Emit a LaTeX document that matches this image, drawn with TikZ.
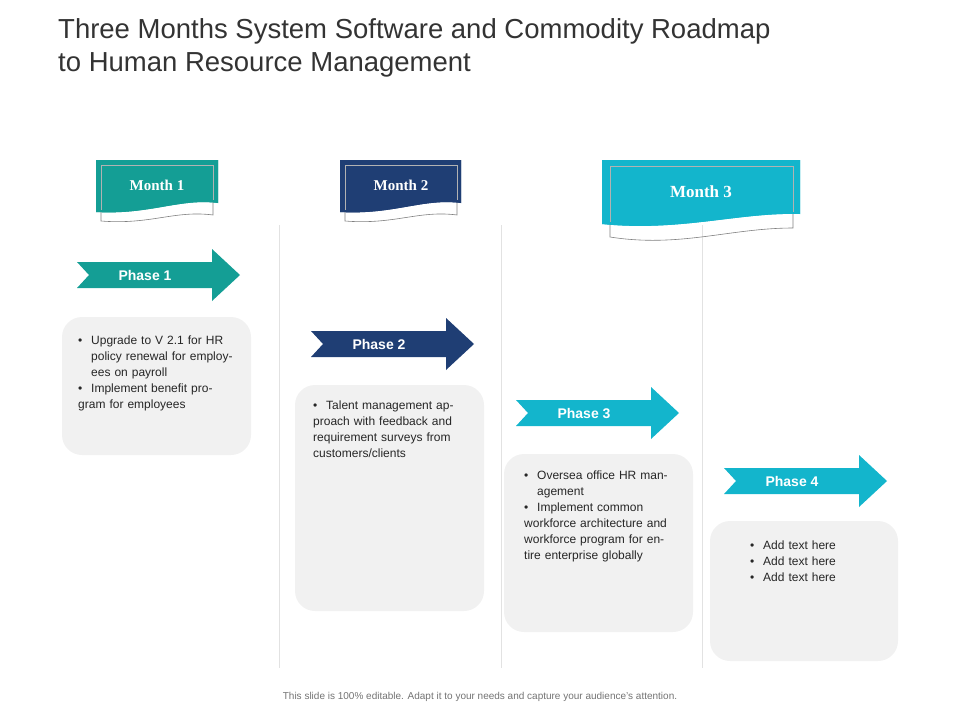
\documentclass[tikz,border=0pt]{standalone}
\usepackage{fontspec}
\setmainfont{Liberation Sans}
\newfontfamily\flagfont{Liberation Serif}
\definecolor{teal1}{HTML}{149E95}
\definecolor{navy1}{HTML}{1F3E74}
\definecolor{cyan1}{HTML}{13B5CC}
\definecolor{boxgray}{HTML}{F1F1F1}
\definecolor{linegray}{HTML}{E2E2E2}
\newcommand{\bl}[1]{\par\hangindent=13pt\hangafter=1\noindent\makebox[13pt][l]{\textbullet}#1}
\tikzset{
 txtbox/.style={fill=boxgray,rounded corners=20pt},
 boxtext/.style={anchor=north west,inner sep=0pt,text width=#1,font=\fontsize{12}{16}\selectfont,color=black!85},
 phase/.style={font=\bfseries\fontsize{14}{16}\selectfont,text=white},
 monthlbl/.style={font=\flagfont\bfseries\fontsize{15}{18}\selectfont,text=white},
 vline/.style={draw=linegray,line width=0.8pt},
}
\newcommand{\flag}[6]{% x0 y0 w h color name
 \fill[#5] (#1,#2) -- ++(#3,0) -- ++(0,#4-0.12*#4) .. controls ++(-0.35*#3,-0.05*#4) and ++(0.35*#3,-0.08*#4) .. ++(-#3,0.12*#4) -- cycle;
 \draw[gray,line width=0.6pt] (#1+0.045*#3,#2+0.1*#4) rectangle (#1+0.955*#3,#2+0.7*#4);
 \draw[gray,line width=0.6pt] (#1+0.045*#3,#2+0.98*#4) -- (#1+0.045*#3,#2+1.2*#4) .. controls ++(0.35*#3,0.1*#4) and ++(-0.35*#3,0.05*#4) .. (#1+0.955*#3,#2+1.05*#4) -- (#1+0.955*#3,#2+0.85*#4);
 \fill[#5] (#1,#2) -- ++(#3,0) -- ++(0,#4-0.12*#4) .. controls ++(-0.35*#3,-0.05*#4) and ++(0.35*#3,-0.08*#4) .. ++(-#3,0.12*#4) -- cycle;
 \draw[gray!70,line width=0.5pt] (#1+0.045*#3,#2+0.1*#4) -- (#1+0.955*#3,#2+0.1*#4) -- (#1+0.955*#3,#2+0.8*#4);
 \draw[gray!70,line width=0.5pt] (#1+0.045*#3,#2+0.1*#4) -- (#1+0.045*#3,#2+0.95*#4);
 \node[monthlbl] (#6) at (#1+0.5*#3,#2+0.5*#4) {#6};}
\newcommand{\parrow}[4]{% x0 y0 color label
 \fill[#3] (#1,#2+13) -- (#1+135,#2+13) -- (#1+135,#2) -- (#1+163,#2+26) -- (#1+135,#2+52) -- (#1+135,#2+39) -- (#1,#2+39) -- (#1+12,#2+26) -- cycle;
 \node[phase] at (#1+68,#2+26) {#4};}
\begin{document}
\begin{tikzpicture}[x=1pt,y=-1pt]
\useasboundingbox (0,0) rectangle (960,720);
\node[anchor=north west,inner sep=0pt,align=left,font=\fontsize{27.5}{33}\selectfont,color=black!80] (title) at (58,18) {Three Months System Software and Commodity Roadmap\\to Human Resource Management};
\draw[vline] (279,225) -- (279,668);
\draw[vline] (501,225) -- (501,668);
\draw[vline] (702,225) -- (702,668);
% flags
\fill[teal1] (96,160) -- (218,160) -- (218,203) .. controls (180,198) and (150,215) .. (96,212) -- cycle;
\draw[gray,line width=0.6pt] (101,165) -- (213,165) -- (213,215) .. controls (175,210) and (150,225) .. (101,221) -- cycle;
\fill[teal1] (96,160) -- (218,160) -- (218,203) .. controls (180,198) and (150,215) .. (96,212) -- cycle;
\draw[gray!60,line width=0.5pt] (101,210) -- (101,165) -- (213,165) -- (213,200);
\node[monthlbl] (m1) at (157,185) {Month 1};
\fill[navy1] (340,160) -- (461,160) -- (461,203) .. controls (423,198) and (394,215) .. (340,212) -- cycle;
\draw[gray,line width=0.6pt] (345,165) -- (457,165) -- (457,215) .. controls (419,210) and (394,225) .. (345,221) -- cycle;
\fill[navy1] (340,160) -- (461,160) -- (461,203) .. controls (423,198) and (394,215) .. (340,212) -- cycle;
\draw[gray!60,line width=0.5pt] (345,210) -- (345,165) -- (457,165) -- (457,200);
\node[monthlbl] (m2) at (401,185) {Month 2};
\fill[cyan1] (602,160) -- (800,160) -- (800,214) .. controls (740,212) and (680,232) .. (602,224) -- cycle;
\draw[gray,line width=0.6pt] (610,166) -- (793,166) -- (793,228) .. controls (730,228) and (680,248) .. (610,237) -- cycle;
\fill[cyan1] (602,160) -- (800,160) -- (800,214) .. controls (740,212) and (680,232) .. (602,224) -- cycle;
\draw[gray!60,line width=0.5pt] (610,222) -- (610,166) -- (793,166) -- (793,212);
\node[monthlbl,font=\flagfont\bfseries\fontsize{17}{20}\selectfont] (m3) at (701,192) {Month 3};
% arrows
\parrow{77}{249}{teal1}{Phase 1}
\parrow{311}{318}{navy1}{Phase 2}
\parrow{516}{387}{cyan1}{Phase 3}
\parrow{724}{455}{cyan1}{Phase 4}
% boxes
\fill[txtbox] (62,317) rectangle (251,455);
\fill[txtbox] (295,385) rectangle (484,611);
\fill[txtbox] (504,454) rectangle (693,632);
\fill[txtbox] (710,521) rectangle (898,661);
\node[boxtext=156pt] (t1) at (78,328) {\bl{Upgrade to V 2.1 for HR policy renewal for employees on payroll}\bl{Implement benefit program for employees}};
\node[boxtext=147pt] (t2) at (313,393) {\bl{Talent management approach with feedback and requirement surveys from customers/clients}};
\node[boxtext=145pt] (t3) at (524,463) {\bl{Oversea office HR management}\bl{Implement common workforce architecture and workforce program for entire enterprise globally}};
\node[boxtext=120pt] (t4) at (750,533) {\bl{Add text here}\bl{Add text here}\bl{Add text here}};
\node[font=\fontsize{10}{12}\selectfont,color=black!55] (foot) at (480,697) {This slide is 100\% editable. Adapt it to your needs and capture your audience's attention.};
\end{tikzpicture}
\end{document}
